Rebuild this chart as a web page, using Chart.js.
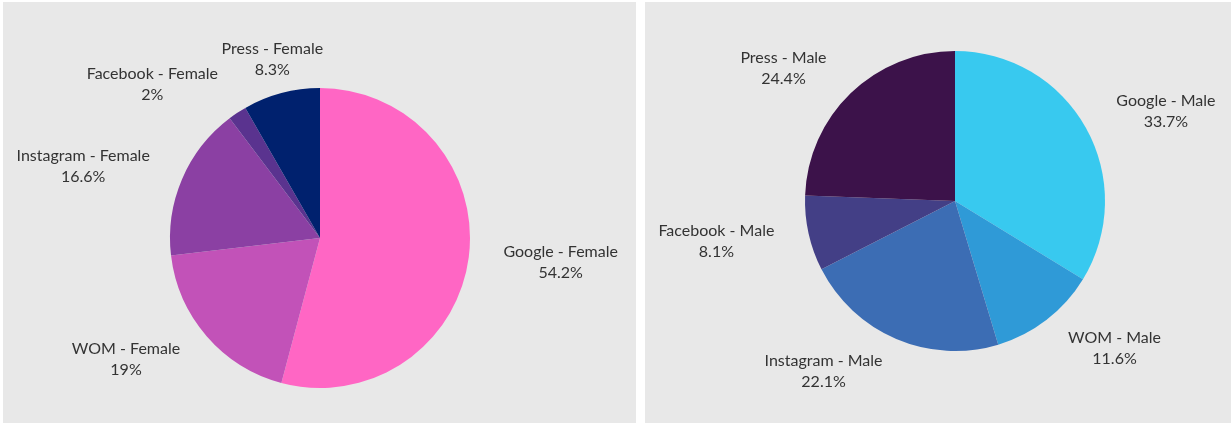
<!DOCTYPE html>
<html>
<head>
<meta charset="utf-8">
<script src="https://cdn.jsdelivr.net/npm/chart.js@4.4.0/dist/chart.umd.min.js"></script>
<style>
  html, body { margin: 0; padding: 0; background: #fff; }
  body { width: 1231px; height: 423px; position: relative; overflow: hidden; }
  .panel { position: absolute; top: 2px; background: #e8e8e8; }
  #left { left: 3px; width: 633px; height: 421px; }
  #right { left: 645px; width: 586px; height: 421px; }
</style>
</head>
<body>
<div class="panel" id="left"><canvas id="femaleChart" width="633" height="421"></canvas></div>
<div class="panel" id="right"><canvas id="maleChart" width="586" height="421"></canvas></div>
<script>
var femaleLabels = ["Google - Female", "WOM - Female", "Instagram - Female", "Facebook - Female", "Press - Female"];
var femaleValues = [54.2, 19, 16.6, 2, 8.3];
var femaleColors = ["#ff66c4", "#c252b8", "#8b40a3", "#5a338f", "#00216e"];

var maleLabels = ["Google - Male", "WOM - Male", "Instagram - Male", "Facebook - Male", "Press - Male"];
var maleValues = [33.7, 11.6, 22.1, 8.1, 24.4];
var maleColors = ["#38c9ef", "#2f9ad7", "#3c6db4", "#433f86", "#3c124a"];

// draws "name / value%" outside each slice
var outsideLabels = {
  id: 'outsideLabels',
  afterDatasetsDraw: function (chart) {
    var ctx = chart.ctx;
    var meta = chart.getDatasetMeta(0);
    var data = chart.data.datasets[0].data;
    ctx.save();
    ctx.font = '16px Lato';
    ctx.fillStyle = '#333333';
    ctx.textBaseline = 'middle';
    ctx.textAlign = 'center';
    meta.data.forEach(function (arc, i) {
      var mid = (arc.startAngle + arc.endAngle) / 2;
      var r = arc.outerRadius + 35;
      var dx = Math.cos(mid), dy = Math.sin(mid);
      var ax = arc.x + r * dx;
      var ay = arc.y + r * dy;
      var line1 = chart.data.labels[i];
      var line2 = data[i] + '%';
      var w = Math.max(ctx.measureText(line1).width, ctx.measureText(line2).width);
      var cx = ax;
      if (dx > 0.3) cx = ax + w / 2;
      else if (dx < -0.3) cx = ax - w / 2;
      ctx.fillText(line1, cx, ay - 10);
      ctx.fillText(line2, cx, ay + 11);
    });
    ctx.restore();
  }
};

function makePie(id, labels, values, colors, padding) {
  return new Chart(document.getElementById(id), {
    type: 'pie',
    data: {
      labels: labels,
      datasets: [{ data: values, backgroundColor: colors, borderWidth: 0 }]
    },
    options: {
      responsive: false,
      animation: false,
      devicePixelRatio: 1,
      layout: { padding: padding },
      plugins: { legend: { display: false }, tooltip: { enabled: false } }
    },
    plugins: [outsideLabels]
  });
}

makePie('femaleChart', femaleLabels, femaleValues, femaleColors, { top: 86, bottom: 35, left: 1, right: 0 });
makePie('maleChart', maleLabels, maleValues, maleColors, { top: 49, bottom: 72, left: 34, right: 0 });
</script>
</body>
</html>
